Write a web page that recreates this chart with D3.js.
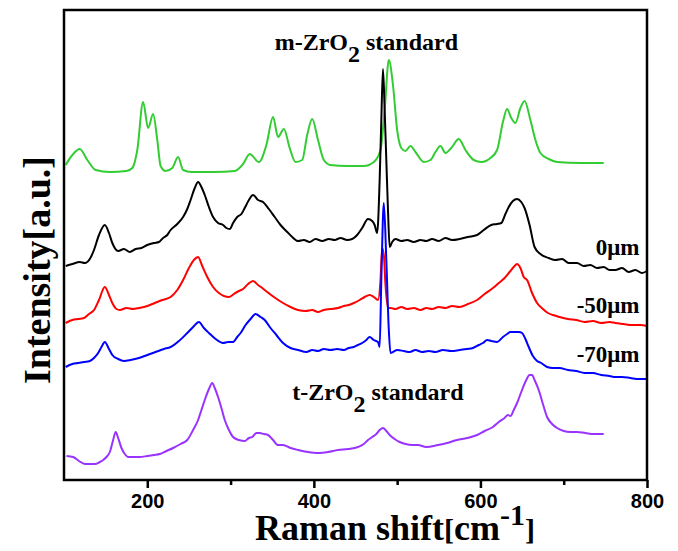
<!DOCTYPE html>
<html>
<head>
<meta charset="utf-8">
<script src="https://cdn.jsdelivr.net/npm/d3@7"></script>
<style>
  body { margin: 0; background: #fff; }
  svg { display: block; font-family: "Liberation Serif", "Times New Roman", serif; font-weight: bold; }
</style>
</head>
<body>
<svg width="678" height="551"></svg>
<script>
// [Raman shift (cm-1), intensity (a.u.)], offsets included
const mStandard = [[102,315],[110,325],[119,331],[128,320],[138,310],[155,308],[175,309],[182,312],[188,330],[195,378],[201,352],[207,366],[212,340],[216,314],[222,309],[230,312],[237,323],[243,310],[253,308],[280,308],[305,309],[315,316],[323,326],[334,318],[343,335],[351,363],[357,343],[364,351],[371,332],[378,318],[386,320],[392,345],[398,361],[405,340],[412,320],[420,315],[440,314],[460,314],[472,318],[480,330],[485,370],[490,420],[495,395],[500,350],[505,332],[510,329],[516,334],[522,328],[532,318],[540,320],[546,328],[552,334],[558,327],[565,332],[574,341],[582,330],[592,320],[601,318],[612,322],[620,330],[627,358],[632,371],[637,362],[642,357],[648,372],[653,379],[660,360],[666,340],[672,327],[682,321],[692,318],[720,317],[748,317]];

const depth0 = [[102,214],[110,216],[119,218],[125,217],[131,221],[136,230],[142,245],[149,255],[154,247],[158,237],[165,229],[172,231],[179,228],[186,231],[193,232],[200,235],[208,237],[214,238],[219,242],[224,245],[228,250],[236,256],[243,263],[248,271],[252,280],[257,292],[261,298],[265,293],[269,285],[274,273],[279,263],[285,257],[291,255],[295,252],[299,251],[303,257],[308,263],[313,266],[317,272],[322,280],[327,285],[333,280],[339,278],[346,271],[353,263],[360,255],[368,248],[374,243],[381,239],[388,240],[395,238],[402,241],[410,239],[418,241],[425,240],[432,242],[440,240],[446,241],[452,245],[458,252],[465,261],[470,259],[473,255],[476,247],[479,300],[481,360],[483,411],[485,370],[487,320],[489,270],[491,233],[494,238],[498,241],[505,239],[512,240],[520,238],[528,240],[535,239],[542,241],[550,239],[558,242],[566,240],[575,241],[585,243],[596,245],[604,250],[613,255],[620,256],[625,257],[630,266],[634,273],[639,279],[644,281],[649,278],[653,272],[659,255],[665,233],[672,226],[682,222],[690,220],[698,221],[706,217],[716,217],[724,214],[732,215],[740,212],[748,213],[755,210],[762,210],[770,212],[778,208],[786,210],[794,207],[800,209]];

const depth50 = [[102,157],[110,160],[117,161],[124,162],[130,166],[136,170],[142,180],[149,193],[154,185],[158,177],[163,171],[167,170],[175,172],[183,171],[190,172],[200,174],[209,177],[218,180],[228,183],[236,190],[243,200],[250,212],[256,220],[261,223],[266,214],[272,203],[279,193],[286,187],[292,184],[298,183],[304,186],[310,189],[315,191],[321,196],[327,199],[333,195],[338,192],[344,188],[352,183],[363,177],[372,173],[381,170],[390,169],[398,170],[405,168],[412,170],[420,171],[429,172],[436,174],[442,175],[448,177],[455,180],[461,183],[467,185],[472,183],[477,180],[480,200],[482,232],[484,225],[486,195],[489,172],[492,172],[498,171],[505,173],[512,171],[520,172],[528,170],[535,172],[542,171],[550,173],[558,172],[566,174],[575,173],[585,176],[596,180],[605,186],[615,192],[622,197],[629,202],[635,208],[640,213],[644,216],[648,212],[652,203],[656,200],[662,187],[668,177],[675,171],[681,167],[687,165],[695,163],[705,161],[715,160],[725,158],[735,159],[745,157],[755,158],[762,157],[772,156],[782,155],[792,155],[800,154]];

const depth70 = [[102,113],[110,116],[117,117],[124,118],[131,119],[136,122],[141,127],[145,133],[149,138],[154,131],[158,125],[165,121],[172,119],[180,120],[190,122],[200,125],[210,128],[220,131],[228,133],[238,139],[248,147],[255,153],[262,158],[268,152],[274,147],[282,141],[291,137],[297,138],[303,138],[308,143],[312,147],[318,155],[324,161],[330,166],[336,163],[341,160],[348,152],[355,145],[363,137],[372,132],[381,130],[391,128],[398,130],[405,129],[412,131],[420,130],[428,131],[436,130],[442,132],[448,133],[453,135],[458,137],[463,140],[467,143],[472,140],[477,138],[479,133],[481,200],[484,277],[487,220],[490,150],[492,127],[495,128],[500,130],[508,129],[515,128],[522,130],[530,128],[538,129],[546,128],[555,130],[565,129],[575,130],[584,131],[591,132],[598,135],[603,137],[608,140],[613,139],[620,138],[627,143],[632,146],[636,148],[641,148],[646,148],[650,147],[654,141],[658,133],[663,124],[668,119],[673,117],[680,113],[687,112],[695,112],[705,110],[715,109],[725,107],[735,107],[745,105],[755,104],[762,103],[770,103],[780,102],[790,101],[800,101]];

const tStandard = [[103,24],[111,23],[118,19],[125,16],[131,16],[137,16],[143,18],[147,20],[151,23],[155,28],[159,40],[162,48],[165,42],[169,32],[173,26],[177,23],[184,23],[191,23],[200,24],[208,25],[215,26],[223,29],[231,32],[240,36],[248,40],[255,50],[261,60],[265,70],[269,80],[274,91],[278,97],[281,92],[285,83],[289,72],[293,60],[298,50],[303,43],[310,40],[317,39],[322,42],[326,43],[331,47],[335,47],[340,46],[345,45],[351,40],[357,35],[363,35],[372,32],[381,30],[393,28],[405,27],[417,28],[429,30],[441,31],[453,33],[460,36],[465,40],[470,43],[475,46],[479,50],[483,52],[487,49],[491,45],[497,41],[503,38],[510,36],[518,35],[525,35],[535,33],[549,35],[560,37],[572,40],[584,42],[596,45],[605,49],[615,53],[622,58],[629,62],[633,65],[636,64],[640,70],[644,77],[649,88],[655,100],[659,105],[662,105],[665,100],[670,90],[675,76],[680,63],[686,56],[692,52],[700,49],[708,48],[716,48],[726,47],[736,46],[748,46]];

const majorTicks = [200, 400, 600, 800];
const minorTicks = [300, 500, 700];
const depthLabels = ['0\u03bcm', '-50\u03bcm', '-70\u03bcm'];
const depthLabelLevels = [225, 167, 118];

const series = [
  { data: mStandard, color: '#33cc33' },
  { data: depth0, color: '#000000' },
  { data: depth50, color: '#ff0000' },
  { data: depth70, color: '#0000ff' },
  { data: tStandard, color: '#9933ff' }
];

const margin = { left: 64, right: 31, top: 10, bottom: 71 };
const svg = d3.select('svg');
const width = +svg.attr('width');
const height = +svg.attr('height');
const innerWidth = width - margin.left - margin.right;
const innerHeight = height - margin.top - margin.bottom;
const g = svg.append('g')
  .attr('transform', `translate(${margin.left},${margin.top})`);

const xScale = d3.scaleLinear().domain([100, 800]).range([0, innerWidth]);
const yScale = d3.scaleLinear().domain([0, 470]).range([innerHeight, 0]);

const line = d3.line()
  .x(d => xScale(d[0]))
  .y(d => yScale(d[1]))
  .curve(d3.curveMonotoneX);

g.selectAll('path.spectrum')
  .data(series)
  .enter().append('path')
  .attr('class', 'spectrum')
  .attr('d', d => line(d.data))
  .attr('fill', 'none')
  .attr('stroke', d => d.color)
  .attr('stroke-width', 2)
  .attr('stroke-linejoin', 'round');

// x axis: labelled major ticks, bare minor ticks
const xAxisG = g.append('g').attr('transform', `translate(0,${innerHeight})`);
xAxisG.call(d3.axisBottom(xScale).tickValues(majorTicks).tickSize(8).tickPadding(6).tickSizeOuter(0))
  .call(a => a.select('.domain').remove());
xAxisG.selectAll('text')
  .attr('font-size', 20).attr('font-family', null).attr('font-weight', 'bold').attr('fill', '#000');
xAxisG.selectAll('line').attr('stroke-width', 2.5).attr('stroke', '#000');
const minorG = g.append('g').attr('transform', `translate(0,${innerHeight})`);
minorG.call(d3.axisBottom(xScale).tickValues(minorTicks).tickSize(5).tickFormat(''))
  .call(a => a.select('.domain').remove());
minorG.selectAll('text').remove();
minorG.selectAll('line').attr('stroke-width', 2.5).attr('stroke', '#000');

// frame
g.append('rect')
  .attr('width', innerWidth)
  .attr('height', innerHeight)
  .attr('fill', 'none')
  .attr('stroke', '#000')
  .attr('stroke-width', 2.5);

// curve annotations
const mLabel = g.append('text')
  .attr('x', xScale(353)).attr('y', yScale(430))
  .attr('font-size', 24);
mLabel.append('tspan').text('m-ZrO');
mLabel.append('tspan').attr('dy', 12).text('2');
mLabel.append('tspan').attr('dy', -12).text(' standard');

const tLabel = g.append('text')
  .attr('x', xScale(374)).attr('y', yScale(80))
  .attr('font-size', 24);
tLabel.append('tspan').text('t-ZrO');
tLabel.append('tspan').attr('dy', 12).text('2');
tLabel.append('tspan').attr('dy', -12).text(' standard');

g.selectAll('text.depth')
  .data(depthLabels)
  .enter().append('text')
  .attr('class', 'depth')
  .attr('x', xScale(791))
  .attr('y', (d, i) => yScale(depthLabelLevels[i]))
  .attr('text-anchor', 'end')
  .attr('font-size', 23)
  .text(d => d);

// axis titles
const xTitle = svg.append('text')
  .attr('x', 255).attr('y', 540)
  .attr('font-size', 36);
xTitle.append('tspan').text('Raman shift');
xTitle.append('tspan').attr('font-size', 30).text('[');
xTitle.append('tspan').text('cm');
xTitle.append('tspan').attr('font-size', 30).attr('dy', -15).text('-1');
xTitle.append('tspan').attr('font-size', 30).attr('dy', 15).text(']');

svg.append('text')
  .attr('transform', 'translate(50,270) rotate(-90)')
  .attr('text-anchor', 'middle')
  .attr('font-size', 38)
  .text('Intensity[a.u.]');
</script>
</body>
</html>
